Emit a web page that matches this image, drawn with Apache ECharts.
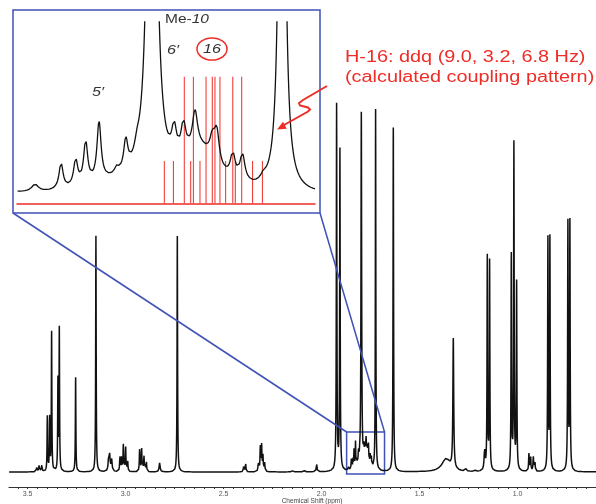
<!DOCTYPE html>
<html>
<head>
<meta charset="utf-8">
<script src="https://cdn.jsdelivr.net/npm/echarts@6/dist/echarts.min.js"></script>
<style>
  html, body { margin: 0; padding: 0; background: #fff; }
  #chart { width: 596px; height: 504px; }
</style>
</head>
<body>
<div id="chart"></div>
<script>
// 峰表：[化学位移 ppm, 峰高, 半峰半宽 ppm]
// 3.6 - 1.9 ppm
const peaksLow = [
  [3.454, 4, 0.002], [3.4423, 7, 0.002], [3.4286, 8, 0.002],
  [3.3995, 55, 0.0015], [3.3878, 55, 0.0015], [3.3776, 140, 0.0015],
  [3.3454, 90, 0.0015], [3.3383, 142, 0.0015], [3.2551, 95, 0.0015],
  [3.1515, 236, 0.0015],
  [3.0867, 12, 0.003], [3.0816, 15, 0.003], [3.0714, 12, 0.003],
  [3.0291, 16, 0.0018], [3.0204, 14, 0.0018], [3.0117, 27, 0.0018], [3.0, 26, 0.0018], [2.9898, 12, 0.0018],
  [2.9286, 22, 0.0018], [2.9184, 24, 0.0018], [2.9066, 17, 0.0018], [2.8944, 12, 0.0018],
  [2.8265, 9, 0.003], [2.7362, 236, 0.0015],
  [2.398, 5, 0.002], [2.3878, 9, 0.002],
  [2.323, 10, 0.0018], [2.3128, 25, 0.0018], [2.3061, 26, 0.0018], [2.2995, 17, 0.0018], [2.2908, 9, 0.0018],
  [2.1495, 2, 0.002], [2.0903, 3, 0.002], [2.0255, 9, 0.002],
  [1.9235, 366, 0.0016], [1.9066, 322, 0.0016]
]
// 放大区域 1.87 - 1.70 ppm（5'、Me-10、6'、H-16）
const peaksH16 = [
  [1.8630, 3.0, 0.0022], [1.8484, 10.7, 0.0014], [1.8402, 10.9, 0.0014], [1.8346, 17.6, 0.0014],
  [1.8271, 24.5, 0.0014], [1.8181, 4.2, 0.0196], [1.8172, 2.5, 0.0014], [1.8121, 12.5, 0.0014],
  [1.8058, 4.2, 0.0017],
  [1.7974, 354, 0.00196],
  [1.7850, 12.7, 0.0017], [1.7798, 13.2, 0.0017], [1.7733, 14.8, 0.0017], [1.7710, 17, 0.012],
  [1.7636, 8.0, 0.0017], [1.7611, 13.8, 0.0017], [1.7521, 10.1, 0.0017], [1.7467, 11.2, 0.0017],
  [1.7350, 2, 0.0017],
  [1.7245, 361, 0.0014]
]
// 1.7 - 0.6 ppm
const peaksHigh = [
  [1.6342, 344, 0.0016],
  [1.365, 13, 0.025], [1.3281, 130, 0.0025],
  [1.2653, 4, 0.002], [1.2143, 2, 0.002],
  [1.1684, 20, 0.003], [1.1546, 214, 0.0016], [1.1429, 209, 0.0016],
  [1.0321, 215, 0.0016], [1.0189, 326, 0.0016], [1.0051, 188, 0.0016],
  [0.9423, 18, 0.0018], [0.9337, 16, 0.0018], [0.9199, 15, 0.0018], [0.9117, 10, 0.0018],
  [0.8454, 231, 0.0016], [0.8352, 232, 0.0016],
  [0.7434, 247, 0.0016], [0.7332, 248, 0.0016]
]

// H-16 计算的耦合裂分 ddq (9.0, 3.2, 6.8 Hz)
const stickShift = [1.7905, 1.7854, 1.7793, 1.7757, 1.7742, 1.7705, 1.7671, 1.7636,
  1.7621, 1.7593, 1.7561, 1.7521, 1.7507, 1.7471, 1.7410, 1.7355]
const stickHeight = [1, 1, 3, 1, 3, 1, 3, 3, 3, 3, 1, 3, 1, 3, 1, 1]

// 坐标轴刻度标签
const tickLabels = [3.5, 3.0, 2.5, 2.0, 1.5, 1.0]

const peaks = peaksLow.concat(peaksH16, peaksHigh)

// 由峰表叠加洛伦兹线形得到谱线
const spectrum = (from, to, step) => {
  let xs = []
  for (let x = from; x <= to; x += step) xs.push(x)
  peaks.forEach(p => { if (p[0] >= from && p[0] <= to) xs.push(p[0]) })
  xs.sort((a, b) => a - b)
  return xs.map(x => {
    let y = 0
    peaks.forEach(p => {
      const d = (x - p[0]) / p[2]
      y += p[1] / (1 + d * d)
    })
    return [x, y]
  })
}

const minorTicks = []
for (let i = 12; i <= 71; i++) minorTicks.push(+(i * 0.05).toFixed(2))

const blue = '#3f52b6'
const red = '#ee2d27'
const font = 'Liberation Sans, Arial, sans-serif'

let chartDom = document.getElementById('chart')
let myChart = echarts.init(chartDom)

let option = {
  animation: false,
  grid: [
    { left: 9, right: 0, top: 100, bottom: 17, outerBoundsMode: 'none', containLabel: false },
    { left: 17, width: 298, top: 22, height: 178, outerBoundsMode: 'none', containLabel: false },
    { left: 17, width: 298, top: 76.7, height: 126.6, outerBoundsMode: 'none', containLabel: false }
  ],
  xAxis: [
    {
      type: 'value', gridIndex: 0, inverse: true, min: 0.6, max: 3.595,
      name: 'Chemical Shift (ppm)', nameLocation: 'middle', nameGap: 11, nameMoveOverlap: false,
      nameTextStyle: { fontSize: 6.5, color: '#444', fontFamily: font, padding: [0, 0, 0, 19] },
      axisLine: { onZero: false, lineStyle: { color: '#333', width: 1.2 } },
      axisTick: { customValues: minorTicks, length: 2, lineStyle: { color: '#333' } },
      axisLabel: { customValues: tickLabels, fontSize: 7, color: '#555', margin: 4, fontFamily: font,
        formatter: v => v.toFixed(1) },
      splitLine: { show: false }
    },
    { type: 'value', gridIndex: 1, inverse: true, min: 1.706, max: 1.8731, show: false },
    {
      type: 'value', gridIndex: 2, inverse: true, min: 1.706, max: 1.8731,
      axisLine: { lineStyle: { color: red, width: 1.5 } },
      axisTick: { show: false }, axisLabel: { show: false }, splitLine: { show: false }
    }
  ],
  yAxis: [
    { type: 'value', gridIndex: 0, min: -15, max: 372, show: false },
    { type: 'value', gridIndex: 1, min: -1.3, max: 72.87, show: false },
    { type: 'value', gridIndex: 2, min: 0, max: 3, show: false }
  ],
  series: [
    {
      type: 'line', xAxisIndex: 0, yAxisIndex: 0,
      data: spectrum(0.6, 3.595, 0.0005),
      showSymbol: false, lineStyle: { color: '#111', width: 1.5 },
      markArea: {
        silent: true,
        itemStyle: { color: 'rgba(0,0,0,0)', borderColor: blue, borderWidth: 1.5 },
        data: [[{ xAxis: 1.8724, yAxis: -2 }, { xAxis: 1.679, yAxis: 40 }]]
      }
    },
    {
      type: 'line', xAxisIndex: 1, yAxisIndex: 1,
      data: spectrum(1.706, 1.8731, 0.00005),
      showSymbol: false, lineStyle: { color: '#111', width: 1.3 }
    },
    {
      type: 'bar', xAxisIndex: 2, yAxisIndex: 2,
      data: stickShift.map((s, i) => [s, stickHeight[i]]),
      barWidth: 1, itemStyle: { color: red }
    }
  ]
}
myChart.setOption(option)

// 放大框与主图方框之间的连线
const boxLeft = myChart.convertToPixel({ gridIndex: 0 }, [1.8724, 40])
const boxRight = myChart.convertToPixel({ gridIndex: 0 }, [1.679, 40])

const label = (x, y, text, size, extra) => ({
  type: 'text', x: x, y: y, scaleX: 1.24, z: 20,
  style: Object.assign({ text: text, fontSize: size, fontFamily: font, fill: '#333', verticalAlign: 'middle' }, extra || {})
})

myChart.setOption({
  graphic: [
    { type: 'rect', z: 15, shape: { x: 13, y: 10, width: 307, height: 203 },
      style: { fill: 'none', stroke: blue, lineWidth: 1.5 } },
    { type: 'line', z: 15, shape: { x1: 13, y1: 213, x2: boxLeft[0], y2: boxLeft[1] },
      style: { stroke: blue, lineWidth: 1.5 } },
    { type: 'line', z: 15, shape: { x1: 320, y1: 213, x2: boxRight[0], y2: boxRight[1] },
      style: { stroke: blue, lineWidth: 1.5 } },
    label(165, 20, '{a|Me-}{b|10}', 12.5, { rich: {
      a: { fontSize: 12.5, fontFamily: font, fill: '#333' },
      b: { fontSize: 12.5, fontFamily: font, fill: '#333', fontStyle: 'italic' } } }),
    label(167, 50, '6\u2032', 13, { fontStyle: 'italic' }),
    label(92, 92, '5\u2032', 13, { fontStyle: 'italic' }),
    { type: 'ellipse', z: 15, shape: { cx: 212, cy: 49, rx: 15, ry: 11 },
      style: { fill: 'none', stroke: red, lineWidth: 1.5 } },
    label(203, 49.5, '16', 13, { fontStyle: 'italic' }),
    label(345, 58, 'H-16: ddq (9.0, 3.2, 6.8 Hz)', 16, { fill: red }),
    label(345, 78, '(calculated coupling pattern)', 16, { fill: red }),
    { type: 'polyline', z: 15,
      shape: { points: [[327, 86], [303, 100], [299, 103], [300, 105.5], [304, 106.5],
        [308, 107.5], [310, 109.5], [308, 111.5], [284, 125]] },
      style: { fill: 'none', stroke: red, lineWidth: 2 } },
    { type: 'polygon', z: 15, shape: { points: [[277, 129.5], [283, 121.7], [286.8, 128.7]] },
      style: { fill: red } }
  ]
})
</script>
</body>
</html>
